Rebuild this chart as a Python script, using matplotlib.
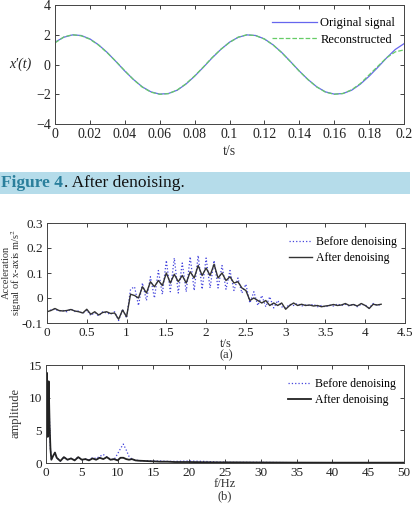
import numpy as np
import matplotlib
matplotlib.use("Agg")
import matplotlib.pyplot as plt
from matplotlib.patches import Rectangle
from matplotlib.ticker import FuncFormatter

plt.rcParams['font.family'] = ['Liberation Serif', 'DejaVu Serif']
plt.rcParams['mathtext.fontset'] = 'stix'

# ---------------- data: top panel (sine, x'(t)) ----------------
t_sig = np.round(np.arange(0, 0.2001, 0.005), 3)
original_signal = [1.50, 1.83, 1.99, 1.95, 1.72, 1.32, 0.80, 0.19, -0.44, -1.01,
                   -1.50, -1.84, -1.99, -1.95, -1.73, -1.32, -0.79, -0.19, 0.44, 1.01,
                   1.50, 1.83, 1.99, 1.95, 1.72, 1.32, 0.80, 0.19, -0.44, -1.01,
                   -1.50, -1.84, -1.99, -1.95, -1.73, -1.32, -0.79, -0.19, 0.44, 1.01,
                   1.40]
reconstructed = [1.45, 1.85, 2.00, 1.93, 1.70, 1.30, 0.78, 0.20, -0.42, -1.02,
                 -1.52, -1.86, -2.00, -1.96, -1.72, -1.30, -0.77, -0.17, 0.46, 1.02,
                 1.48, 1.84, 2.00, 1.94, 1.71, 1.31, 0.79, 0.18, -0.45, -1.02,
                 -1.51, -1.86, -2.00, -1.95, -1.70, -1.28, -0.70, -0.12, 0.45, 0.85,
                 0.98]

# ---------------- data: middle panel (acceleration) ----------------
t_acc = np.round(np.arange(0, 4.2001, 0.05), 2)
after_acc = [-0.055, -0.050, -0.042, -0.050, -0.052, -0.050, -0.046, -0.052, -0.055, -0.060,
             -0.045, -0.065, -0.055, -0.068, -0.058, -0.055, -0.062, -0.060, -0.085, -0.048,
             -0.075, 0.015, 0.010, 0.000, 0.045, 0.020, 0.065, 0.045, 0.070, 0.050,
             0.100, 0.060, 0.095, 0.065, 0.090, 0.060, 0.105, 0.080, 0.130, 0.090,
             0.120, 0.090, 0.135, 0.080, 0.100, 0.070, 0.085, 0.060, 0.065, 0.040,
             0.030, -0.010, 0.000, -0.010, -0.020, -0.010, -0.030, -0.020, -0.030, -0.020,
             -0.045, -0.030, -0.020, -0.030, -0.025, -0.030, -0.028, -0.032, -0.030, -0.035,
             -0.032, -0.030, -0.026, -0.030, -0.028, -0.022, -0.030, -0.026, -0.032, -0.022,
             -0.030, -0.042, -0.025, -0.028, -0.025]
before_acc = [-0.055, -0.048, -0.045, -0.052, -0.050, -0.055, -0.044, -0.054, -0.052, -0.062,
              -0.048, -0.070, -0.058, -0.072, -0.055, -0.060, -0.065, -0.055, -0.090, -0.045,
              -0.080, 0.035, 0.045, -0.030, 0.060, -0.010, 0.085, 0.000, 0.110, 0.015,
              0.150, 0.025, 0.160, 0.020, 0.140, 0.025, 0.165, 0.030, 0.170, 0.035,
              0.160, 0.040, 0.150, 0.040, 0.130, 0.035, 0.110, 0.030, 0.080, 0.020,
              0.055, -0.020, 0.025, -0.030, 0.010, -0.035, 0.005, -0.040, -0.010, -0.035,
              -0.040, -0.025, -0.030, -0.022, -0.032, -0.028, -0.030, -0.025, -0.035, -0.030,
              -0.036, -0.028, -0.032, -0.024, -0.030, -0.025, -0.032, -0.024, -0.035, -0.025,
              -0.028, -0.040, -0.022, -0.030, -0.025]

# ---------------- data: bottom panel (spectrum) ----------------
freq = [0, 0.12, 0.25, 0.37, 0.5, 0.62, 0.75, 1.0, 1.25, 1.5,
        2.0, 2.5, 3.0, 3.5, 4.0, 4.5, 5.0, 5.5, 6.0, 6.5,
        7.0, 7.5, 8.0, 8.5, 9.0, 9.5, 10.0, 10.4, 10.8, 11.2,
        11.6, 12.0, 12.5, 13.0, 14, 15, 16, 17, 18, 20,
        22, 24, 26, 30, 35, 40, 45, 50]
after_amp = [3.5, 13.8, 4.0, 12.5, 6.0, 2.2, 0.5, 1.1, 1.6, 0.8,
             0.3, 0.9, 0.5, 0.7, 0.4, 0.9, 0.5, 0.6, 0.4, 0.7,
             0.5, 0.8, 0.6, 0.9, 0.5, 0.6, 0.4, 0.8, 0.8, 0.6,
             0.5, 0.6, 0.4, 0.35, 0.3, 0.25, 0.2, 0.2, 0.15, 0.15,
             0.12, 0.1, 0.1, 0.08, 0.06, 0.05, 0.05, 0.05]
before_amp = [3.5, 13.6, 4.0, 12.3, 6.0, 2.2, 0.5, 1.1, 1.6, 0.8,
              0.3, 0.9, 0.5, 0.7, 0.5, 0.9, 0.5, 0.6, 0.5, 0.8,
              0.7, 1.0, 1.3, 0.9, 0.6, 0.5, 1.4, 2.2, 2.9, 2.0,
              1.0, 0.6, 0.45, 0.35, 0.35, 0.3, 0.3, 0.25, 0.25, 0.3,
              0.25, 0.15, 0.1, 0.1, 0.05, 0.05, 0.05, 0.05]

W, H = 415, 509
fig = plt.figure(figsize=(W / 100, H / 100), dpi=100)

def frac_axes(l, t, r, b):
    return fig.add_axes([l / W, 1 - b / H, (r - l) / W, (b - t) / H])

def style(ax, fs):
    ax.tick_params(direction='in', top=True, right=True, length=3, width=0.6,
                   labelsize=fs, colors='#222222', pad=3)
    for s in ax.spines.values():
        s.set_linewidth(0.7)
        s.set_color('#444444')

fmt = FuncFormatter(lambda v, p: ('%g' % round(v, 6)))

# ---- top axes ----
ax1 = frac_axes(55, 5, 404, 124)
ax1.plot(t_sig, original_signal, color='#6666ee', lw=0.9, label='Original signal')
ax1.plot(t_sig, reconstructed, color='#66cc66', lw=0.9, ls='--', label='Reconstructed')
ax1.set_xlim(0, 0.2)
ax1.set_ylim(-4, 4)
ax1.set_xticks(np.round(np.arange(0, 0.2001, 0.02), 2))
ax1.set_yticks([-4, -2, 0, 2, 4])
ax1.xaxis.set_major_formatter(fmt)
style(ax1, 10)
ax1.set_xlabel('t/s', fontsize=10, color='#333333', labelpad=3)
fig.text(20 / W, 1 - 64 / H, "x′(t)", fontsize=10, style='italic', ha='center', va='center', color='#222222')
ax1.legend(loc='upper right', bbox_to_anchor=(1.0, 0.97), frameon=False, fontsize=9,
           handlelength=3.6, handletextpad=0.3, labelspacing=0.35, borderaxespad=0.3)

# ---- caption band ----
fig.patches.append(Rectangle((0, 1 - 194 / H), 410 / W, 22 / H, transform=fig.transFigure,
                             facecolor='#b5dcea', edgecolor='none', zorder=0))
t1 = fig.text(1 / W, 1 - 183.5 / H, 'Figure 4', fontsize=12.5, fontweight='bold', color='#2a7f9c',
              ha='left', va='center')
fig.canvas.draw()
bb = t1.get_window_extent()
fig.text((bb.x1 + 0.5) / W, 1 - 183.5 / H, '. After denoising.', fontsize=12.5, color='#111111',
         ha='left', va='center')

# ---- middle axes ----
ax2 = frac_axes(47, 223, 405, 323)
ax2.plot(t_acc, before_acc, color='#4444dd', lw=0.9, ls=':', label='Before denoising')
ax2.plot(t_acc, after_acc, color='#333333', lw=1.0, label='After denoising')
ax2.set_xlim(0, 4.5)
ax2.set_ylim(-0.1, 0.3)
ax2.set_xticks(np.round(np.arange(0, 4.501, 0.5), 1))
ax2.set_yticks([-0.1, 0, 0.1, 0.2, 0.3])
ax2.xaxis.set_major_formatter(fmt)
ax2.yaxis.set_major_formatter(fmt)
style(ax2, 9.5)
ax2.set_xlabel('t/s', fontsize=9, color='#333333', labelpad=-1)
fig.text(226 / W, 1 - 355 / H, '(a)', fontsize=9, ha='center', va='center', color='#333333')
fig.text(13 / W, 1 - 272 / H, 'Acceleration\nsignal of x-axis m/s$^2$', fontsize=7.5, rotation=90,
         ha='center', va='center', color='#333333', linespacing=0.9)
ax2.legend(loc='upper right', bbox_to_anchor=(1.0, 0.95), frameon=False, fontsize=8.5,
           handlelength=2.0, handletextpad=0.3, labelspacing=0.35, borderaxespad=0.3)

# ---- bottom axes ----
ax3 = frac_axes(46, 365, 404, 463)
ax3.plot(freq, before_amp, color='#4444dd', lw=0.9, ls=':', label='Before denoising')
ax3.plot(freq, after_amp, color='#222222', lw=1.3, label='After denoising')
ax3.set_xlim(0, 50)
ax3.set_ylim(0, 15)
ax3.set_xticks(np.arange(0, 51, 5))
ax3.set_yticks([0, 5, 10, 15])
style(ax3, 9.5)
ax3.set_xlabel('f/Hz', fontsize=9, color='#333333', labelpad=-1)
fig.text(225 / W, 1 - 496 / H, '(b)', fontsize=9, ha='center', va='center', color='#333333')
fig.text(15 / W, 1 - 413 / H, 'amplitude', fontsize=9, rotation=90, ha='center', va='center',
         color='#333333')
ax3.legend(loc='upper right', bbox_to_anchor=(1.0, 0.95), frameon=False, fontsize=8.5,
           handlelength=2.0, handletextpad=0.3, labelspacing=0.35, borderaxespad=0.3)

fig.savefig('out.png', dpi=100)
